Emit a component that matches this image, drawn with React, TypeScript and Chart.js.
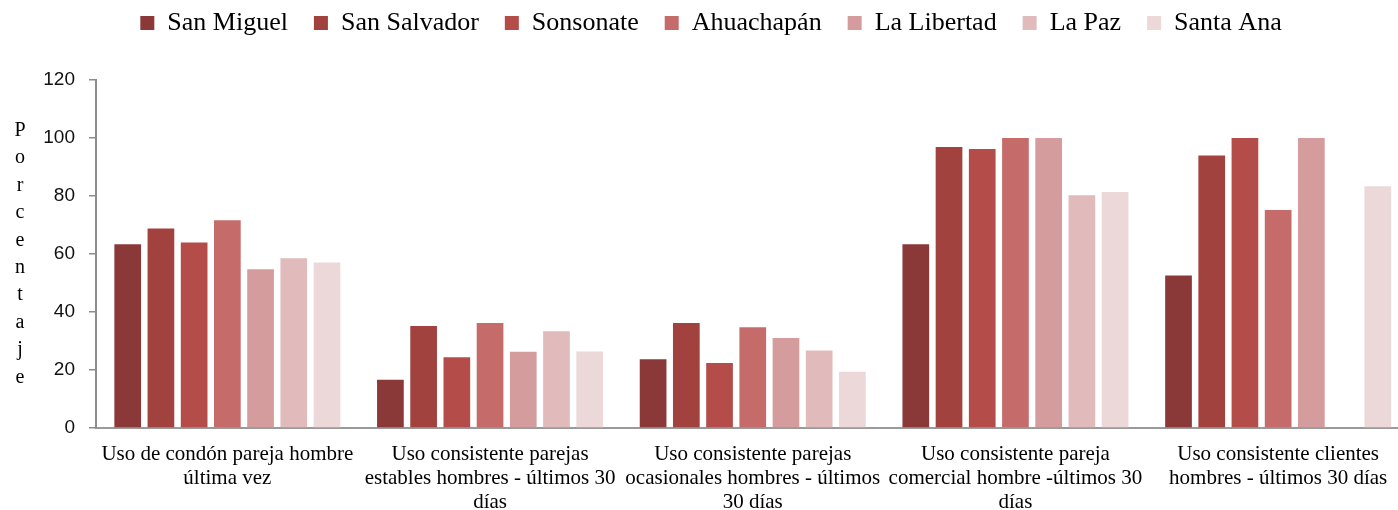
import React, { useEffect, useRef } from "react";
import { Chart, registerables } from "chart.js";

Chart.register(...registerables);

const categories: string[][] = [
  ["Uso de condón pareja hombre", "última vez"],
  ["Uso consistente parejas", "estables hombres - últimos 30", "días"],
  ["Uso consistente parejas", "ocasionales hombres - últimos", "30 días"],
  ["Uso consistente pareja", "comercial hombre -últimos 30", "días"],
  ["Uso consistente clientes", "hombres - últimos 30 días"],
];

const seriesNames = [
  "San Miguel",
  "San Salvador",
  "Sonsonate",
  "Ahuachapán",
  "La Libertad",
  "La Paz",
  "Santa Ana",
];

const sanMiguel = [63.4, 16.6, 23.7, 63.4, 52.6];
const sanSalvador = [68.8, 35.2, 36.2, 96.9, 94.0];
const sonsonate = [64.0, 24.4, 22.4, 96.2, 100];
const ahuachapan = [71.6, 36.2, 34.7, 100, 75.2];
const laLibertad = [54.7, 26.3, 31.0, 100, 100];
const laPaz: (number | null)[] = [58.5, 33.4, 26.7, 80.3, null];
const santaAna = [57.1, 26.4, 19.4, 81.4, 83.4];

const seriesValues = [sanMiguel, sanSalvador, sonsonate, ahuachapan, laLibertad, laPaz, santaAna];

const seriesColors = ["#8b3838", "#a1423f", "#b44d4a", "#c56c6a", "#d49c9c", "#e1bbbc", "#ecd8d9"];

const yMin = 0;
const yMax = 120;
const yStep = 20;
const yAxisTitle = "Porcentaje";

const verticalTitlePlugin = {
  id: "verticalTitle",
  afterDraw(chart: any) {
    const { ctx, chartArea } = chart;
    const letters = yAxisTitle.split("");
    const spacing = 27.4;
    const mid = (chartArea.top + chartArea.bottom) / 2;
    const start = mid - ((letters.length - 1) * spacing) / 2;
    ctx.save();
    ctx.fillStyle = "#000";
    ctx.font = "20px 'Liberation Serif', 'Times New Roman', serif";
    ctx.textAlign = "center";
    ctx.textBaseline = "middle";
    letters.forEach((ch, i) => {
      ctx.fillText(ch, 20, start + i * spacing);
    });
    ctx.restore();
  },
};

export default function App() {
  const canvasRef = useRef<HTMLCanvasElement | null>(null);

  useEffect(() => {
    document.body.style.margin = "0";
    const canvas = canvasRef.current;
    if (!canvas) return;
    const chart = new Chart(canvas, {
      type: "bar",
      data: {
        labels: categories,
        datasets: seriesNames.map((name, i) => ({
          label: name,
          data: seriesValues[i],
          backgroundColor: seriesColors[i],
          borderWidth: 0,
          categoryPercentage: 0.885,
          barPercentage: 0.804,
        })),
      },
      options: {
        responsive: false,
        animation: false,
        devicePixelRatio: 1,
        layout: { padding: { top: -16, left: 0, right: 0, bottom: 0 } },
        plugins: {
          legend: {
            display: true,
            position: "top",
            weight: 3000,
            labels: {
              boxWidth: 14,
              boxHeight: 14,
              padding: 26,
              color: "#000",
              font: { family: "'Liberation Serif', 'Times New Roman', serif", size: 26 },
            },
          } as any,
          title: {
            display: true,
            text: " ",
            position: "top",
            weight: 500,
            padding: { top: 0, bottom: 0 },
            font: { size: 34, lineHeight: 1 },
          } as any,
          tooltip: { enabled: false },
        },
        scales: {
          x: {
            grid: { display: false },
            border: { display: true, color: "#9a9a9a", width: 2 },
            ticks: {
              color: "#000",
              padding: 7,
              maxRotation: 0,
              autoSkip: false,
              font: { family: "'Liberation Serif', 'Times New Roman', serif", size: 21, lineHeight: 1.14 },
            },
            afterFit: (s: any) => {
              s.height = 82;
            },
          },
          y: {
            min: yMin,
            max: yMax,
            ticks: {
              stepSize: yStep,
              color: "#111",
              padding: 14,
              font: { family: "'Liberation Sans', Arial, sans-serif", size: 19 },
            },
            grid: {
              display: true,
              drawOnChartArea: false,
              drawTicks: true,
              tickLength: 7,
              color: "#8c8c8c",
              lineWidth: 1.5,
            },
            border: { display: true, color: "#8c8c8c", width: 2 },
            afterFit: (s: any) => {
              s.width = 96;
            },
          },
          y2: {
            position: "right",
            display: true,
            grid: { display: false },
            ticks: { display: false },
            border: { display: false },
            afterFit: (s: any) => {
              s.width = 12.5;
            },
          },
        },
      },
      plugins: [verticalTitlePlugin],
    });
    return () => chart.destroy();
  }, []);

  return (
    <div style={{ width: 1398, height: 510, overflow: "hidden", position: "relative", background: "#fff" }}>
      <canvas ref={canvasRef} width={1422} height={510} style={{ display: "block" }} />
    </div>
  );
}
